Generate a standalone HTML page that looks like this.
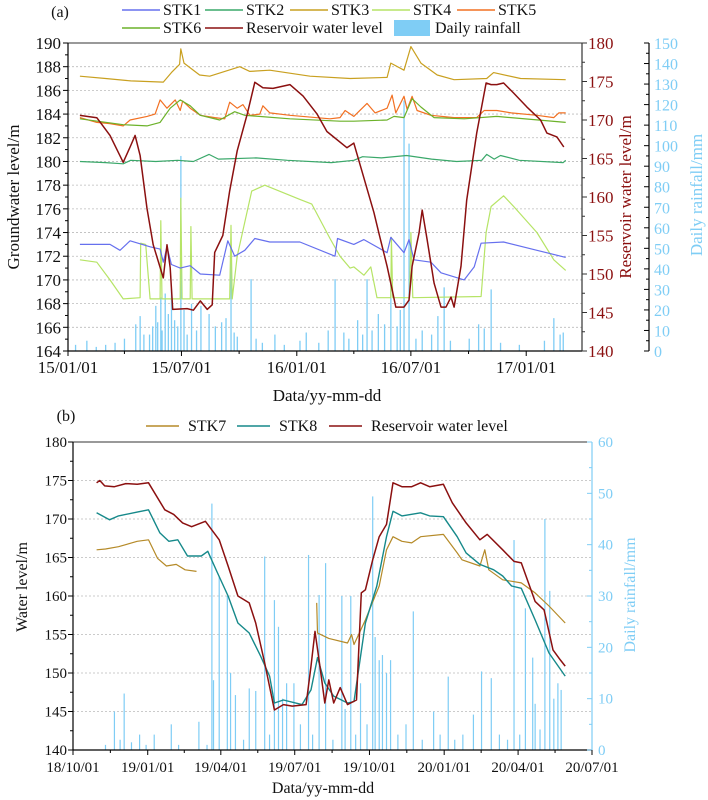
<!DOCTYPE html>
<html><head><meta charset="utf-8">
<style>
html,body{margin:0;padding:0;background:#fff;}
svg{display:block;font-family:"Liberation Serif",serif;}
</style></head>
<body>
<svg id="fig" width="708" height="800" viewBox="0 0 708 800" xmlns="http://www.w3.org/2000/svg"></svg>
<script>
// ---------- Chart (a) data: day offset from 2015-01-01 ----------
const aTickDays = [0, 181, 365, 547, 731];
const aTickLabels = ["15/01/01", "15/07/01", "16/01/01", "16/07/01", "17/01/01"];
const aReservoir = [[19,170.6],[46,170.3],[67,168],[88,164.5],[99,166.5],[107,168],[115,165.4],[126,158.5],[136,153.8],[152,149.5],[158,153.8],[163,150.8],[167,145.4],[190,145.5],[200,145.3],[211,146.5],[222,145.4],[230,146],[234,152.8],[247,155],[258,160.8],[270,166],[286,170.8],[298,174.9],[311,174.2],[327,174.1],[354,174.6],[375,173.1],[397,170.8],[413,168.5],[445,166.4],[456,167],[488,158],[496,155.3],[509,151],[517,148],[523,145.7],[536,145.7],[544,146.6],[549,151],[560,155.3],[565,158.3],[573,154.4],[584,148.8],[595,145.7],[603,145.7],[611,147],[616,145.7],[627,151],[636,159.6],[652,168.3],[667,174.8],[675,174.6],[684,174.6],[695,174.8],[711,173.5],[732,171.7],[754,170],[764,168.3],[780,167.8],[791,166.5]];
const aSTK1 = [[19,173],[67,173],[83,172.5],[99,173.3],[131,172.8],[147,172.6],[152,171.5],[158,172.8],[165,171.3],[179,171],[195,171.2],[211,170.5],[242,170.4],[255,173.3],[266,172],[282,172.5],[298,173.5],[322,173.2],[370,173.2],[426,172],[430,173.5],[456,173],[472,173.4],[509,172.3],[515,173.6],[536,172.3],[544,173.4],[552,171.7],[579,171.5],[595,170.6],[632,170],[648,171.1],[659,173.1],[695,173.2],[748,172.5],[794,171.9]];
const aSTK2 = [[19,180],[60,179.9],[88,179.8],[100,180.1],[140,180],[175,180.1],[200,180],[225,180.6],[240,180.2],[300,180.3],[350,180.1],[420,179.9],[456,180.1],[470,180.4],[500,180.3],[540,180.5],[580,180.2],[620,180],[660,180.1],[668,180.6],[680,180.2],[690,180.5],[720,180.1],[790,179.9],[794,180.1]];
const aSTK3 = [[19,187.2],[60,187],[100,186.8],[152,186.7],[165,187.5],[178,188.2],[180,189.5],[185,188.3],[210,187.3],[226,187.2],[274,188],[290,187.6],[322,187.7],[386,187.2],[450,187],[509,187.1],[515,188.3],[536,187.7],[547,189.7],[563,188.3],[589,187.3],[616,186.9],[668,187],[679,187.5],[722,187],[794,186.9]];
const aSTK4 = [[19,171.7],[46,171.5],[67,170],[88,168.4],[115,168.5],[116,173.1],[124,173],[131,168.4],[147,168.4],[148,175],[150,168.4],[179,168.4],[180,176.9],[182,168.4],[195,168.4],[196,174.5],[198,168.4],[258,168.4],[260,174.6],[262,168.4],[270,172],[293,177.5],[314,178],[370,176.8],[389,176.4],[418,173.5],[434,172],[450,171],[456,171.1],[472,170.4],[483,171.1],[493,168.5],[515,168.5],[516,173.6],[518,168.5],[545,168.5],[547,174],[550,168.5],[659,168.6],[667,174],[675,176.2],[695,177.1],[711,176.2],[748,174],[775,171.7],[794,170.8]];
const aSTK5 = [[19,183.7],[46,183.3],[67,183.2],[88,183],[99,183.5],[126,183.8],[139,184],[147,185.2],[158,184.5],[171,185.2],[179,184.3],[183,185.1],[195,184.5],[211,183.9],[234,183.7],[250,183.6],[258,185],[270,184.5],[279,184.8],[290,183.9],[306,184],[311,184.7],[322,184.1],[354,183.9],[418,183.6],[434,183.7],[442,184.3],[456,183.8],[477,184.9],[490,184.1],[509,184.5],[517,185.6],[523,184.1],[536,185.5],[541,184.4],[549,185.5],[557,184.3],[579,183.9],[616,183.7],[652,183.7],[664,184.3],[684,184.3],[707,184.1],[748,183.9],[775,183.7],[783,184.1],[794,184.1]];
const aSTK6 = [[19,183.6],[88,183.1],[126,183],[147,183.3],[163,184.5],[179,185.2],[195,184.7],[211,183.9],[242,183.5],[266,184.2],[282,183.9],[354,183.6],[434,183.4],[456,183.4],[509,183.5],[520,183.8],[536,183.7],[549,185.3],[563,184.6],[584,183.7],[632,183.6],[684,183.8],[794,183.3]];
const aRain = [[12,3],[30,5],[45,2],[60,3],[75,4],[90,6],[108,13],[115,17],[121,8],[130,8],[135,12],[140,22],[143,14],[148,26],[150,10],[155,28],[160,18],[165,30],[170,15],[175,12],[180,95],[185,20],[190,8],[197,23],[205,10],[212,22],[225,18],[235,12],[245,14],[252,16],[260,44],[265,9],[270,7],[292,35],[300,6],[310,4],[330,8],[345,3],[370,5],[380,9],[400,4],[415,10],[426,35],[440,9],[448,6],[462,15],[470,8],[477,35],[485,10],[495,18],[505,13],[515,35],[525,12],[530,20],[536,122],[544,101],[555,6],[565,10],[580,8],[590,17],[600,31],[610,5],[640,6],[655,13],[664,11],[675,30],[690,4],[720,3],[760,5],[775,16],[785,8],[790,9]];

// ---------- Chart (b) data: day offset from 2018-10-01 ----------
const bTickDays = [0, 92, 182, 273, 365, 457, 548, 639];
const bTickLabels = ["18/10/01","19/01/01","19/04/01","19/07/01","19/10/01","20/01/01","20/04/01","20/07/01"];
const bReservoir = [[29,174.7],[33,175],[39,174.3],[51,174.2],[65,174.6],[79,174.5],[93,174.7],[113,171.2],[124,170.6],[135,169.5],[146,169],[163,169.7],[180,167.3],[191,163.9],[203,160],[217,159.1],[225,156.5],[236,151.3],[248,145.2],[259,145.9],[270,145.7],[287,145.9],[293,150.9],[298,155.4],[304,150.9],[310,146.1],[315,149.1],[321,146.1],[329,148.1],[338,145.9],[349,146.5],[355,160.4],[360,160.8],[369,164.7],[377,167.7],[386,169.3],[394,174.7],[405,174.2],[417,174.2],[428,174.7],[439,174.2],[456,174.5],[467,172.1],[484,169.5],[501,167.3],[510,168],[529,166],[543,164.5],[552,164.3],[569,159.3],[580,158.2],[591,153],[600,151.7],[606,150.9]];
const bSTK8 = [[29,170.8],[45,169.9],[56,170.4],[79,170.9],[93,171.2],[107,168.2],[118,167.1],[129,167.3],[141,165.2],[158,165.2],[166,165.8],[177,163.2],[191,160],[203,156.5],[217,155.2],[231,152.2],[242,149.6],[248,146.1],[259,146.5],[282,145.9],[293,147.8],[301,152],[310,148.7],[321,147],[338,146.1],[346,146.3],[360,156.5],[374,161.3],[386,167.7],[394,171],[405,170.4],[428,170.8],[439,170.4],[456,170.3],[473,167.7],[484,165.6],[501,164.1],[518,163.4],[529,162.6],[540,161.3],[552,161],[569,156.9],[586,152.6],[606,149.6]];
const bSTK7a = [[29,166],[40,166.1],[56,166.4],[79,167.1],[93,167.3],[104,164.9],[115,163.9],[127,164.1],[138,163.4],[152,163.2]];
const bSTK7b = [[300,159.1],[301,155.2],[315,154.5],[338,153.9],[343,155],[346,153.7],[360,156.9],[377,161.3],[386,166],[394,167.7],[405,167.1],[417,166.9],[428,167.7],[456,168],[473,165.6],[479,164.7],[501,163.9],[507,166],[512,163.4],[529,162.1],[552,161.7],[569,160.4],[586,158.7],[606,156.5]];
const bRain = [[40,1],[51,7.5],[58,2],[63,11],[72,1.5],[82,3],[90,1],[100,3],[121,5],[130,1],[155,5.5],[165,1],[171,48],[173,13.6],[180,33.8],[190,30],[194,15],[200,10.7],[210,2],[217,12],[225,11.5],[236,37.7],[242,3],[248,29.2],[253,24],[258,10],[263,13],[272,13],[280,5],[290,38],[295,3],[303,30.2],[311,36.4],[320,2],[331,30],[335,8],[342,30],[348,3],[354,13],[362,5],[369,49.4],[372,22],[377,17.5],[381,18.5],[386,15],[391,17.5],[400,3],[410,5],[419,27],[430,2],[444,7.5],[452,3],[462,14.3],[470,2],[480,3],[493,6.9],[503,15.3],[515,14],[525,3],[535,2],[543,40.9],[550,3],[557,27.6],[566,18],[569,9],[575,4],[581,45],[587,31],[592,10],[597,13],[601,11.7]];

const NS = "http://www.w3.org/2000/svg";
const svg = document.getElementById('fig');
function mk(tag, attrs, parent){
  const e = document.createElementNS(NS, tag);
  for (const k in attrs) e.setAttribute(k, attrs[k]);
  (parent || svg).appendChild(e);
  return e;
}
function txt(s, x, y, size, fill, anchor, parent){
  const t = mk('text', {x:x, y:y, 'font-size':size, fill:fill, 'text-anchor':anchor||'start'}, parent);
  t.textContent = s;
  return t;
}

// ================= Chart (a) =================
const A = {x0:68, x1:582, y0:43, y1:351, dMax:820};
const axA = d => A.x0 + d/A.dMax*(A.x1-A.x0);
const ayL = v => A.y1 - (v-164)/26*(A.y1-A.y0);
const ayR = v => A.y1 - (v-140)/40*(A.y1-A.y0);
const ayRain = v => A.y1 - v/150*(A.y1-A.y0);

const gA = mk('g', {});



for (let v = 166; v <= 188; v += 2) {
  const l = mk('line', {x1:A.x0, x2:A.x1, y1:ayL(v), y2:ayL(v), stroke:'#bbb', 'stroke-width':0.8, 'stroke-dasharray':'2,2'}, gA);
  
  
}
for (const r of aRain) {
  const b = mk('rect', {x:axA(r[0])-0.6, y:ayRain(r[1]), width:1.3, height:A.y1-ayRain(r[1]), fill:'#7fcdf5'}, gA);
  
  
}
function line(data, xf, yf, color, name, parent, w){
  const p = mk('polyline', {points:data.map(d => xf(d[0]).toFixed(1)+','+yf(d[1]).toFixed(1)).join(' '), fill:'none', stroke:color, 'stroke-width':w||1.2, 'stroke-linejoin':'round'}, parent);
  
  
  return p;
}
line(aSTK2, axA, ayL, '#3aa86a', 'stk2-line', gA);
line(aSTK4, axA, ayL, '#b6e466', 'stk4-line', gA);
line(aSTK1, axA, ayL, '#6670ee', 'stk1-line', gA);
line(aSTK3, axA, ayL, '#c9a020', 'stk3-line', gA);
line(aSTK5, axA, ayL, '#f27022', 'stk5-line', gA);
line(aSTK6, axA, ayL, '#6cb22a', 'stk6-line', gA);
line(aReservoir, axA, ayR, '#8b1010', 'reservoir-line-a', gA, 1.5);

mk('line', {x1:A.x0, x2:A.x1, y1:A.y0, y2:A.y0, stroke:'#333', 'stroke-width':1}, gA);
mk('line', {x1:A.x0, x2:A.x1, y1:A.y1, y2:A.y1, stroke:'#000', 'stroke-width':1.2}, gA);
mk('line', {x1:A.x0, x2:A.x0, y1:A.y0, y2:A.y1, stroke:'#000', 'stroke-width':1.2}, gA);
mk('line', {x1:A.x1, x2:A.x1, y1:A.y0, y2:A.y1, stroke:'#333', 'stroke-width':1.2}, gA);
for (let v = 164; v <= 190; v += 1) {
  const maj = v % 2 === 0;
  mk('line', {x1:A.x0-(maj?5:3), x2:A.x0, y1:ayL(v), y2:ayL(v), stroke:'#000', 'stroke-width':1}, gA);
  if (maj) {
    const t = txt(String(v), A.x0-7, ayL(v)+6, 17, '#111', 'end', gA);
    
    
  }
}
for (let v = 140; v <= 180; v += 2.5) {
  const maj = v % 5 === 0;
  mk('line', {x1:A.x1, x2:A.x1+(maj?5:3), y1:ayR(v), y2:ayR(v), stroke:'#333', 'stroke-width':1}, gA);
  if (maj) {
    const t = txt(String(v), A.x1+6, ayR(v)+6, 17, '#8b1010', 'start', gA);
    
    
  }
}
const rx = 649;
mk('line', {x1:rx, x2:rx, y1:A.y0, y2:A.y1, stroke:'#000', 'stroke-width':1.2}, gA);
for (let v = 0; v <= 150; v += 5) {
  const maj = v % 10 === 0;
  mk('line', {x1:rx-(maj?5:3), x2:rx, y1:ayRain(v), y2:ayRain(v), stroke:'#000', 'stroke-width':1}, gA);
  if (maj) {
    const t = txt(String(v), rx+5, ayRain(v)+6, 16, '#7fcdf5', 'start', gA);
    
    
  }
}
const aMinor = [90, 273, 456, 639];
for (const d of aMinor) mk('line', {x1:axA(d), x2:axA(d), y1:A.y1, y2:A.y1+3, stroke:'#000'}, gA);
aTickDays.forEach((d, i) => {
  mk('line', {x1:axA(d), x2:axA(d), y1:A.y1, y2:A.y1+5, stroke:'#000'}, gA);
  const t = txt(aTickLabels[i], axA(d), 373, 17, '#111', 'middle', gA);
  
  
});
let t;
t = txt('Data/yy-mm-dd', 327, 401, 17, '#111', 'middle', gA);


t = txt('Groundwater level/m', 0, 0, 17, '#111', 'middle', gA);
t.setAttribute('transform', 'translate(19,197) rotate(-90)');


t = txt('Reservoir water level/m', 0, 0, 17, '#8b1010', 'middle', gA);
t.setAttribute('transform', 'translate(631,197) rotate(-90)');


t = txt('Daily rainfall/mm', 0, 0, 17, '#7fcdf5', 'middle', gA);
t.setAttribute('transform', 'translate(702,195) rotate(-90)');


t = txt('(a)', 60, 17, 16, '#111', 'middle', gA);



const legA = [
  ['STK1','#6670ee',122,10],['STK2','#3aa86a',205,10],['STK3','#c9a020',290,10],['STK4','#b6e466',372,10],['STK5','#f27022',457,10],
  ['STK6','#6cb22a',122,28],['Reservoir water level','#8b1010',205,28]
];
for (const L of legA) {
  const g = mk('g', {}, gA);
  
  
  mk('line', {x1:L[2], x2:L[2]+38, y1:L[3], y2:L[3], stroke:L[1], 'stroke-width':1.5}, g);
  txt(L[0], L[2]+41, L[3]+5, 16, '#111', 'start', g);
}
{
  const g = mk('g', {}, gA);
  
  
  mk('rect', {x:394, y:20, width:36, height:16, fill:'#7fcdf5'}, g);
  txt('Daily rainfall', 435, 33, 16, '#111', 'start', g);
}

// ================= Chart (b) =================
const B = {x0:73, x1:592, y0:442, y1:750, dMax:639};
const bx = d => B.x0 + d/B.dMax*(B.x1-B.x0);
const byL = v => B.y1 - (v-140)/40*(B.y1-B.y0);
const byRain = v => B.y1 - v/60*(B.y1-B.y0);
const gB = mk('g', {});


for (let v = 145; v <= 175; v += 5) {
  const l = mk('line', {x1:B.x0, x2:B.x1, y1:byL(v), y2:byL(v), stroke:'#bbb', 'stroke-width':0.8, 'stroke-dasharray':'2,2'}, gB);
  
  
}
for (const r of bRain) {
  const b = mk('rect', {x:bx(r[0])-0.6, y:byRain(r[1]), width:1.2, height:B.y1-byRain(r[1]), fill:'#7fcdf5'}, gB);
  
  
}
line(bSTK7a, bx, byL, '#b58a28', 'stk7-line', gB);
line(bSTK7b, bx, byL, '#b58a28', 'stk7-line', gB);
line(bSTK8, bx, byL, '#16898a', 'stk8-line', gB, 1.4);
line(bReservoir, bx, byL, '#8b1010', 'reservoir-line-b', gB, 1.5);

mk('line', {x1:B.x0, x2:B.x1, y1:B.y0, y2:B.y0, stroke:'#333', 'stroke-width':1}, gB);
mk('line', {x1:B.x0, x2:B.x1, y1:B.y1, y2:B.y1, stroke:'#000', 'stroke-width':1.2}, gB);
mk('line', {x1:B.x0, x2:B.x0, y1:B.y0, y2:B.y1, stroke:'#000', 'stroke-width':1.2}, gB);
mk('line', {x1:B.x1, x2:B.x1, y1:B.y0, y2:B.y1, stroke:'#7fcdf5', 'stroke-width':1.2}, gB);
for (let v = 140; v <= 180; v += 2.5) {
  const maj = v % 5 === 0;
  mk('line', {x1:B.x0-(maj?5:3), x2:B.x0, y1:byL(v), y2:byL(v), stroke:'#000'}, gB);
  if (maj) {
    const tt = txt(String(v), B.x0-6, byL(v)+5, 15, '#111', 'end', gB);
    
    
  }
}
for (let v = 0; v <= 60; v += 5) {
  const maj = v % 10 === 0;
  mk('line', {x1:B.x1-(maj?5:3), x2:B.x1, y1:byRain(v), y2:byRain(v), stroke:'#7fcdf5'}, gB);
  if (maj) {
    const tt = txt(String(v), B.x1+6, byRain(v)+5, 15, '#7fcdf5', 'start', gB);
    
    
  }
}
for (let i = 0; i < bTickDays.length; i++) {
  mk('line', {x1:bx(bTickDays[i]), x2:bx(bTickDays[i]), y1:B.y1, y2:B.y1+5, stroke:'#000'}, gB);
  if (i < bTickDays.length-1) {
    const m = (bTickDays[i]+bTickDays[i+1])/2;
    mk('line', {x1:bx(m), x2:bx(m), y1:B.y1, y2:B.y1+3, stroke:'#000'}, gB);
  }
  const tt = txt(bTickLabels[i], bx(bTickDays[i]), 772, 15, '#111', 'middle', gB);
  
  
}
t = txt('Data/yy-mm-dd', 323, 793, 16, '#111', 'middle', gB);


t = txt('Water level/m', 0, 0, 16, '#111', 'middle', gB);
t.setAttribute('transform', 'translate(27,587) rotate(-90)');


t = txt('Daily rainfall/mm', 0, 0, 16, '#7fcdf5', 'middle', gB);
t.setAttribute('transform', 'translate(635,595) rotate(-90)');


t = txt('(b)', 66, 421, 16, '#111', 'middle', gB);


const legB = [['STK7','#b58a28',146],['STK8','#16898a',237],['Reservoir water level','#8b1010',329]];
for (const L of legB) {
  const g = mk('g', {}, gB);
  
  
  mk('line', {x1:L[2], x2:L[2]+33, y1:426, y2:426, stroke:L[1], 'stroke-width':1.5}, g);
  txt(L[0], L[2]+42, 431, 16, '#111', 'start', g);
}
</script>
</body></html>
